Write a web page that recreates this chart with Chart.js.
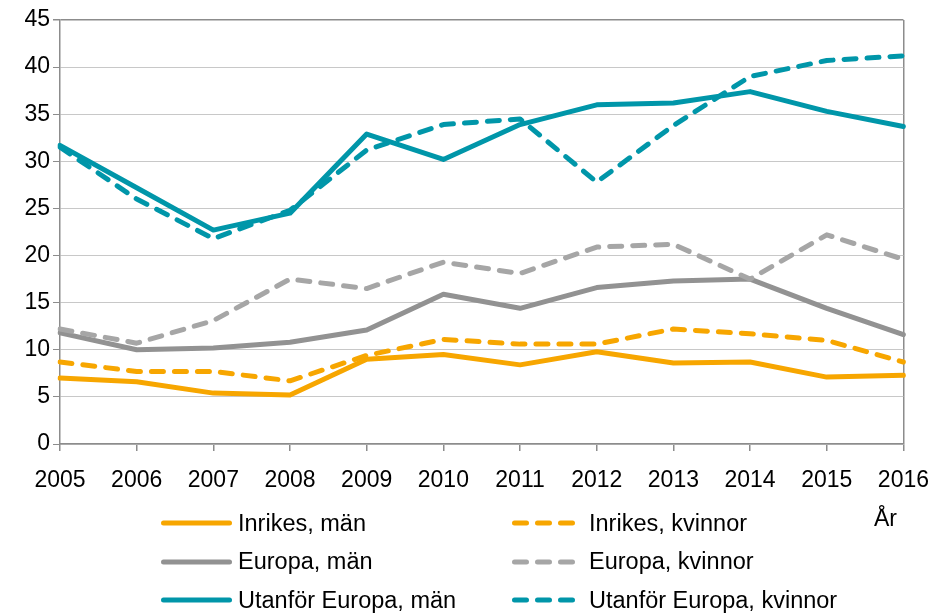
<!DOCTYPE html>
<html>
<head>
<meta charset="utf-8">
<script src="https://cdn.jsdelivr.net/npm/chart.js@4/dist/chart.umd.min.js"></script>
<style>
  html, body { margin: 0; padding: 0; background: #ffffff; }
  #wrap { position: relative; width: 941px; height: 613px; overflow: hidden; }
  #wrap canvas { position: absolute; left: 0; top: 0; }
  .leg { position: absolute; display: flex; align-items: center; height: 30px;
         font-family: "Liberation Sans", Arial, sans-serif; font-size: 23.5px; color: #000; white-space: nowrap; }
  .leg svg { display: block; margin-right: 6px; }
  #unit { position: absolute; font-family: "Liberation Sans", Arial, sans-serif; font-size: 23px; color: #000; }
</style>
</head>
<body>
<div id="wrap">
  <canvas id="c" width="941" height="613"></canvas>
  <div id="legend"></div>
  <div id="unit">År</div>
</div>
<script>
// ---- Data ----
const years = ["2005","2006","2007","2008","2009","2010","2011","2012","2013","2014","2015","2016"];
const inrikesMan      = [7.0, 6.6, 5.4, 5.2, 9.0, 9.5, 8.4, 9.8, 8.6, 8.7, 7.1, 7.3];
const inrikesKvinnor  = [8.7, 7.7, 7.7, 6.7, 9.4, 11.1, 10.6, 10.6, 12.2, 11.7, 11.0, 8.7];
const europaMan       = [11.8, 10.0, 10.2, 10.8, 12.1, 15.9, 14.4, 16.6, 17.3, 17.5, 14.4, 11.6];
const europaKvinnor   = [12.2, 10.7, 13.1, 17.5, 16.5, 19.3, 18.1, 20.9, 21.2, 17.5, 22.2, 19.6];
const utanforMan      = [31.7, 27.2, 22.7, 24.5, 32.9, 30.2, 33.9, 36.0, 36.2, 37.4, 35.3, 33.7];
const utanforKvinnor  = [31.5, 26.0, 21.8, 24.8, 31.2, 33.9, 34.5, 27.8, 33.8, 39.0, 40.7, 41.2];
const seriesNames = ["Inrikes, män", "Inrikes, kvinnor", "Europa, män", "Europa, kvinnor", "Utanför Europa, män", "Utanför Europa, kvinnor"];
const yTicks = [0, 5, 10, 15, 20, 25, 30, 35, 40, 45];
const unitLabel = "År";

// ---- Styles ----
const ORANGE = "#F7A600";
const GRAY = "#929292";
const GRAY_L = "#A6A6A6";
const TEAL = "#0096A9";
const LW = 5;
const DASH = [12, 11];
const FONT = "'Liberation Sans', Arial, sans-serif";

const seriesData = [inrikesMan, inrikesKvinnor, europaMan, europaKvinnor, utanforMan, utanforKvinnor];
const seriesColor = [ORANGE, ORANGE, GRAY, GRAY_L, TEAL, TEAL];
const seriesDashed = [false, true, false, true, false, true];

const datasets = seriesData.map((d, i) => ({
  label: seriesNames[i],
  data: d,
  borderColor: seriesColor[i],
  backgroundColor: seriesColor[i],
  borderWidth: LW,
  borderDash: seriesDashed[i] ? DASH : [],
  borderCapStyle: 'round',
  borderJoinStyle: 'round',
  pointRadius: 0,
  pointHoverRadius: 0,
  tension: 0,
  fill: false,
  order: 10 - i
}));

const chart = new Chart(document.getElementById('c'), {
  type: 'line',
  data: { labels: years, datasets },
  options: {
    responsive: false,
    animation: false,
    events: [],
    layout: { padding: { top: 20, right: 37, bottom: 119, left: 0 } },
    plugins: { legend: { display: false }, tooltip: { enabled: false } },
    scales: {
      x: {
        type: 'category',
        offset: false,
        afterFit: (s) => { s.height = 50; },
        border: { display: true, color: '#8C8C8C', width: 1.5 },
        grid: {
          drawOnChartArea: true,
          drawTicks: true,
          tickLength: 7,
          tickColor: '#8C8C8C',
          lineWidth: 1.5,
          color: (ctx) => ctx.index === years.length - 1 ? '#8C8C8C' : 'rgba(0,0,0,0)'
        },
        ticks: { color: '#000', font: { family: FONT, size: 23, lineHeight: 1.55 }, padding: 12, maxRotation: 0, autoSkip: false }
      },
      y: {
        min: 0, max: 45,
        afterFit: (s) => { s.width = 60; },
        afterBuildTicks: (s) => { s.ticks = yTicks.map(v => ({ value: v })); },
        border: { display: true, color: '#8C8C8C', width: 1.5 },
        grid: {
          drawTicks: true,
          tickLength: 7,
          tickColor: '#8C8C8C',
          lineWidth: (ctx) => ctx.tick && ctx.tick.value === 45 ? 1.5 : 1,
          color: (ctx) => ctx.tick && ctx.tick.value === 45 ? '#8C8C8C' : '#C8C8C8'
        },
        ticks: { color: '#000', font: { family: FONT, size: 23 }, padding: 3 }
      }
    }
  }
});

// ---- HTML legend built from the chart datasets ----
const legend = document.getElementById('legend');
const colX = [161, 512];
const rowY = [523, 561.5, 600];
chart.data.datasets.forEach((ds, i) => {
  const col = i % 2, row = Math.floor(i / 2);
  const el = document.createElement('div');
  el.className = 'leg';
  el.style.left = colX[col] + 'px';
  el.style.top = (rowY[row] - 15) + 'px';
  const w = ds.borderDash.length ? 64 : 71;
  const ns = 'http://www.w3.org/2000/svg';
  const svg = document.createElementNS(ns, 'svg');
  svg.setAttribute('width', w); svg.setAttribute('height', 12);
  const ln = document.createElementNS(ns, 'line');
  ln.setAttribute('x1', LW / 2); ln.setAttribute('x2', w - LW / 2);
  ln.setAttribute('y1', 6); ln.setAttribute('y2', 6);
  ln.setAttribute('stroke', ds.borderColor);
  ln.setAttribute('stroke-width', LW);
  ln.setAttribute('stroke-linecap', 'round');
  if (ds.borderDash.length) ln.setAttribute('stroke-dasharray', ds.borderDash.join(' '));
  svg.appendChild(ln);
  el.appendChild(svg);
  const t = document.createElement('span');
  t.textContent = ds.label;
  el.appendChild(t);
  if (col === 1) { svg.style.marginRight = '13px'; }
  legend.appendChild(el);
});
const unit = document.getElementById('unit');
unit.textContent = unitLabel;
unit.style.left = '874px';
unit.style.top = '505px';
</script>
</body>
</html>
